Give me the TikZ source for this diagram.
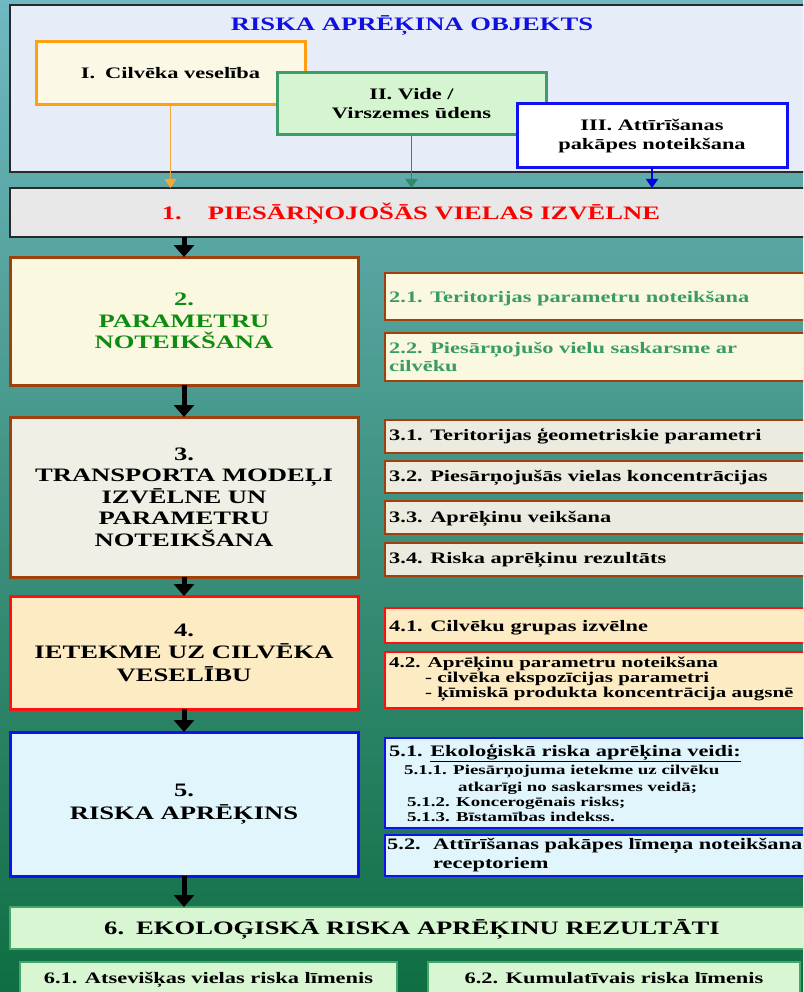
\documentclass[tikz,border=0pt]{standalone}
\usepackage{fontspec}
\setmainfont{Liberation Serif}[FakeStretch=1.4]
\usetikzlibrary{arrows.meta}
\definecolor{bgtop}{HTML}{70B8C2}
\definecolor{bgmid}{HTML}{45987F}
\definecolor{bgbot}{HTML}{0F6E42}
\definecolor{objfill}{HTML}{E6EDF8}
\definecolor{frame}{HTML}{2A2A2A}
\definecolor{titleblue}{HTML}{1010E0}
\definecolor{orangeline}{HTML}{FFA010}
\definecolor{creamI}{HTML}{FBF9E6}
\definecolor{greenline}{HTML}{3C9C6C}
\definecolor{greenfill}{HTML}{D5F4D0}
\definecolor{arrI}{HTML}{F0A838}
\definecolor{arrII}{HTML}{2E8B62}
\definecolor{arrIII}{HTML}{0000E0}
\definecolor{grayfill}{HTML}{E8E8E8}
\definecolor{redtext}{HTML}{FF0000}
\definecolor{cream}{HTML}{FBF8E0}
\definecolor{brownline}{HTML}{A0400C}
\definecolor{maingreen}{HTML}{0E8C12}
\definecolor{tealtext}{HTML}{3A9C62}
\definecolor{b3fill}{HTML}{EFEFE6}
\definecolor{s3fill}{HTML}{ECEBDF}
\definecolor{b4fill}{HTML}{FCEBC3}
\definecolor{redline}{HTML}{FF1010}
\definecolor{b5fill}{HTML}{E0F6FC}
\definecolor{blueline}{HTML}{1010F0}
\definecolor{g6fill}{HTML}{D8F6D2}
\definecolor{g6line}{HTML}{40A868}
\begin{document}
\begin{tikzpicture}[x=1pt,y=-1pt,
  boxnode/.style={anchor=north west, inner sep=0pt, outer sep=0pt},
  objbox/.style={boxnode, line width=3pt, align=center, font=\fontsize{16}{19}\selectfont\bfseries},
  mainbox/.style={boxnode, line width=3pt, minimum width=348pt, align=center, font=\fontsize{19}{21.5}\selectfont\bfseries},
  sidebox/.style={boxnode, line width=2pt, minimum width=440pt},
  sidetext/.style={anchor=base west, inner sep=0pt, font=\fontsize{16}{18}\selectfont\bfseries},
  smalltext/.style={anchor=base west, inner sep=0pt, font=\fontsize{15}{15}\selectfont\bfseries},
  subtext/.style={anchor=base west, inner sep=0pt, font=\fontsize{13.5}{15}\selectfont\bfseries},
  bigtext/.style={anchor=base, inner sep=0pt, font=\fontsize{19}{21}\selectfont\bfseries},
  bigarrow/.style={line width=5pt, -{Triangle[width=20pt,length=12pt]}},
  thinarrow/.style={line width=1.5pt, -{Triangle[width=12pt,length=9pt]}}
]
\useasboundingbox (0,0) rectangle (803,992);
\clip (0,0) rectangle (803,992);
\shade[top color=bgtop, middle color=bgmid, bottom color=bgbot] (0,0) rectangle (803,992);

% Top object box
\node[boxnode, draw=frame, line width=1.2pt, fill=objfill, minimum width=830pt, minimum height=167pt] (obj) at (10,5) {};
\node[bigtext, text=titleblue] (title) at (412,30.7) {RISKA APRĒĶINA OBJEKTS};
\node[objbox, draw=orangeline, fill=creamI, minimum width=269pt, minimum height=63pt] (bI) at (36,42) {I.\hspace{10pt}Cilvēka veselība};
\node[objbox, draw=greenline, fill=greenfill, minimum width=269pt, minimum height=62pt] (bII) at (277,73) {II. Vide /\\Virszemes ūdens};
\node[objbox, draw=blueline, fill=white, minimum width=270pt, minimum height=64pt] (bIII) at (517,104) {III. Attīrīšanas\\pakāpes noteikšana};

% Step 1
\node[boxnode, draw=frame, line width=2pt, fill=grayfill, minimum width=830pt, minimum height=49pt] (b1) at (10,188) {};
\node[bigtext, text=redtext] (t1) at (411,219.5) {1.\hspace{26pt}PIESĀRŅOJOŠĀS VIELAS IZVĒLNE};

\draw[thinarrow, arrI] (bI.south) -- (bI.south |- b1.north);
\draw[thinarrow, arrII] (bII.south) -- (bII.south |- b1.north);
\draw[thinarrow, arrIII] (bIII.south) -- (bIII.south |- b1.north);

% Step 2
\node[mainbox, draw=brownline, fill=cream, text=maingreen, minimum height=128pt] (b2) at (10,257) {2.\\PARAMETRU\\NOTEIKŠANA};
\node[sidebox, draw=brownline, fill=cream, minimum height=47pt] (s21) at (385,273) {};
\node[sidetext, text=tealtext] (t21) at (389,302.5) {2.1. Teritorijas parametru noteikšana};
\node[sidebox, draw=brownline, fill=cream, minimum height=48pt] (s22) at (385,333) {};
\node[sidetext, text=tealtext] (t22a) at (389,353) {2.2. Piesārņojušo vielu saskarsme ar};
\node[sidetext, text=tealtext] (t22b) at (389,371) {cilvēku};

% Step 3
\node[mainbox, draw=brownline, fill=b3fill, minimum height=160pt] (b3) at (10,417) {3.\\TRANSPORTA MODEĻI\\IZVĒLNE UN\\PARAMETRU\\NOTEIKŠANA};
\node[sidebox, draw=brownline, fill=s3fill, minimum height=33pt] (s31) at (385,420) {};
\node[sidetext] (t31) at (389,440) {3.1. Teritorijas ģeometriskie parametri};
\node[sidebox, draw=brownline, fill=s3fill, minimum height=32pt] (s32) at (385,461) {};
\node[sidetext] (t32) at (389,481.5) {3.2. Piesārņojušās vielas koncentrācijas};
\node[sidebox, draw=brownline, fill=s3fill, minimum height=33pt] (s33) at (385,501) {};
\node[sidetext] (t33) at (389,522) {3.3. Aprēķinu veikšana};
\node[sidebox, draw=brownline, fill=s3fill, minimum height=33pt] (s34) at (385,543) {};
\node[sidetext] (t34) at (389,563.5) {3.4. Riska aprēķinu rezultāts};

% Step 4
\node[mainbox, draw=redline, fill=b4fill, minimum height=113pt, font=\fontsize{19}{22.5}\selectfont\bfseries] (b4) at (10,596) {4.\\IETEKME UZ CILVĒKA\\VESELĪBU};
\node[sidebox, draw=redline, fill=b4fill, minimum height=35pt] (s41) at (385,608) {};
\node[sidetext] (t41) at (389,631.5) {4.1. Cilvēku grupas izvēlne};
\node[sidebox, draw=redline, fill=b4fill, minimum height=56pt] (s42) at (385,652) {};
\node[smalltext] (t42a) at (389,667.5) {4.2. Aprēķinu parametru noteikšana};
\node[smalltext] (t42b) at (425,682.5) {- cilvēka ekspozīcijas parametri};
\node[smalltext] (t42c) at (425,697.5) {- ķīmiskā produkta koncentrācija augsnē};

% Step 5
\node[mainbox, draw=blueline, fill=b5fill, minimum height=144pt, font=\fontsize{19}{22.5}\selectfont\bfseries] (b5) at (10,732) {5.\\RISKA APRĒĶINS};
\node[sidebox, draw=blueline, fill=b5fill, minimum height=90pt] (s51) at (385,738) {};
\node[sidetext] (t51) at (389,756) {5.1. \underline{Ekoloģiskā riska aprēķina veidi:}};
\node[subtext] (t511a) at (404,774) {5.1.1.};
\node[subtext] (t511b) at (453,774) {Piesārņojuma ietekme uz cilvēku};
\node[subtext] (t511c) at (458,791) {atkarīgi no saskarsmes veidā;};
\node[subtext] (t512a) at (407,806) {5.1.2.};
\node[subtext] (t512b) at (456,806) {Koncerogēnais risks;};
\node[subtext] (t513a) at (407,821) {5.1.3.};
\node[subtext] (t513b) at (456,821) {Bīstamības indekss.};
\node[sidebox, draw=blueline, fill=b5fill, minimum height=41pt] (s52) at (385,835) {};
\node[sidetext] (t52a) at (387,849) {5.2.};
\node[sidetext] (t52b) at (433,849) {Attīrīšanas pakāpes līmeņa noteikšana};
\node[sidetext] (t52c) at (433,868) {receptoriem};

% Step 6
\node[boxnode, draw=g6line, line width=2pt, fill=g6fill, minimum width=830pt, minimum height=42pt] (b6) at (10,907) {};
\node[bigtext] (t6) at (412,934) {6.\hspace{12pt}EKOLOĢISKĀ RISKA APRĒĶINU REZULTĀTI};
\node[boxnode, draw=g6line, line width=2pt, fill=g6fill, minimum width=377pt, minimum height=45pt] (b61) at (20,962) {};
\node[anchor=base, inner sep=0pt, font=\fontsize{16}{18}\selectfont\bfseries] (t61) at (208.5,983) {6.1. Atsevišķas vielas riska līmenis};
\node[boxnode, draw=g6line, line width=2pt, fill=g6fill, minimum width=372pt, minimum height=45pt] (b62) at (428,962) {};
\node[anchor=base, inner sep=0pt, font=\fontsize{16}{18}\selectfont\bfseries] (t62) at (614,983) {6.2. Kumulatīvais riska līmenis};

% Main flow arrows
\draw[bigarrow] (b1.south -| b2.north) -- (b2.north);
\draw[bigarrow] (b2.south) -- (b3.north);
\draw[bigarrow] (b3.south) -- (b4.north);
\draw[bigarrow] (b4.south) -- (b5.north);
\draw[bigarrow] (b5.south) -- (b5.south |- b6.north);
\end{tikzpicture}
\end{document}
